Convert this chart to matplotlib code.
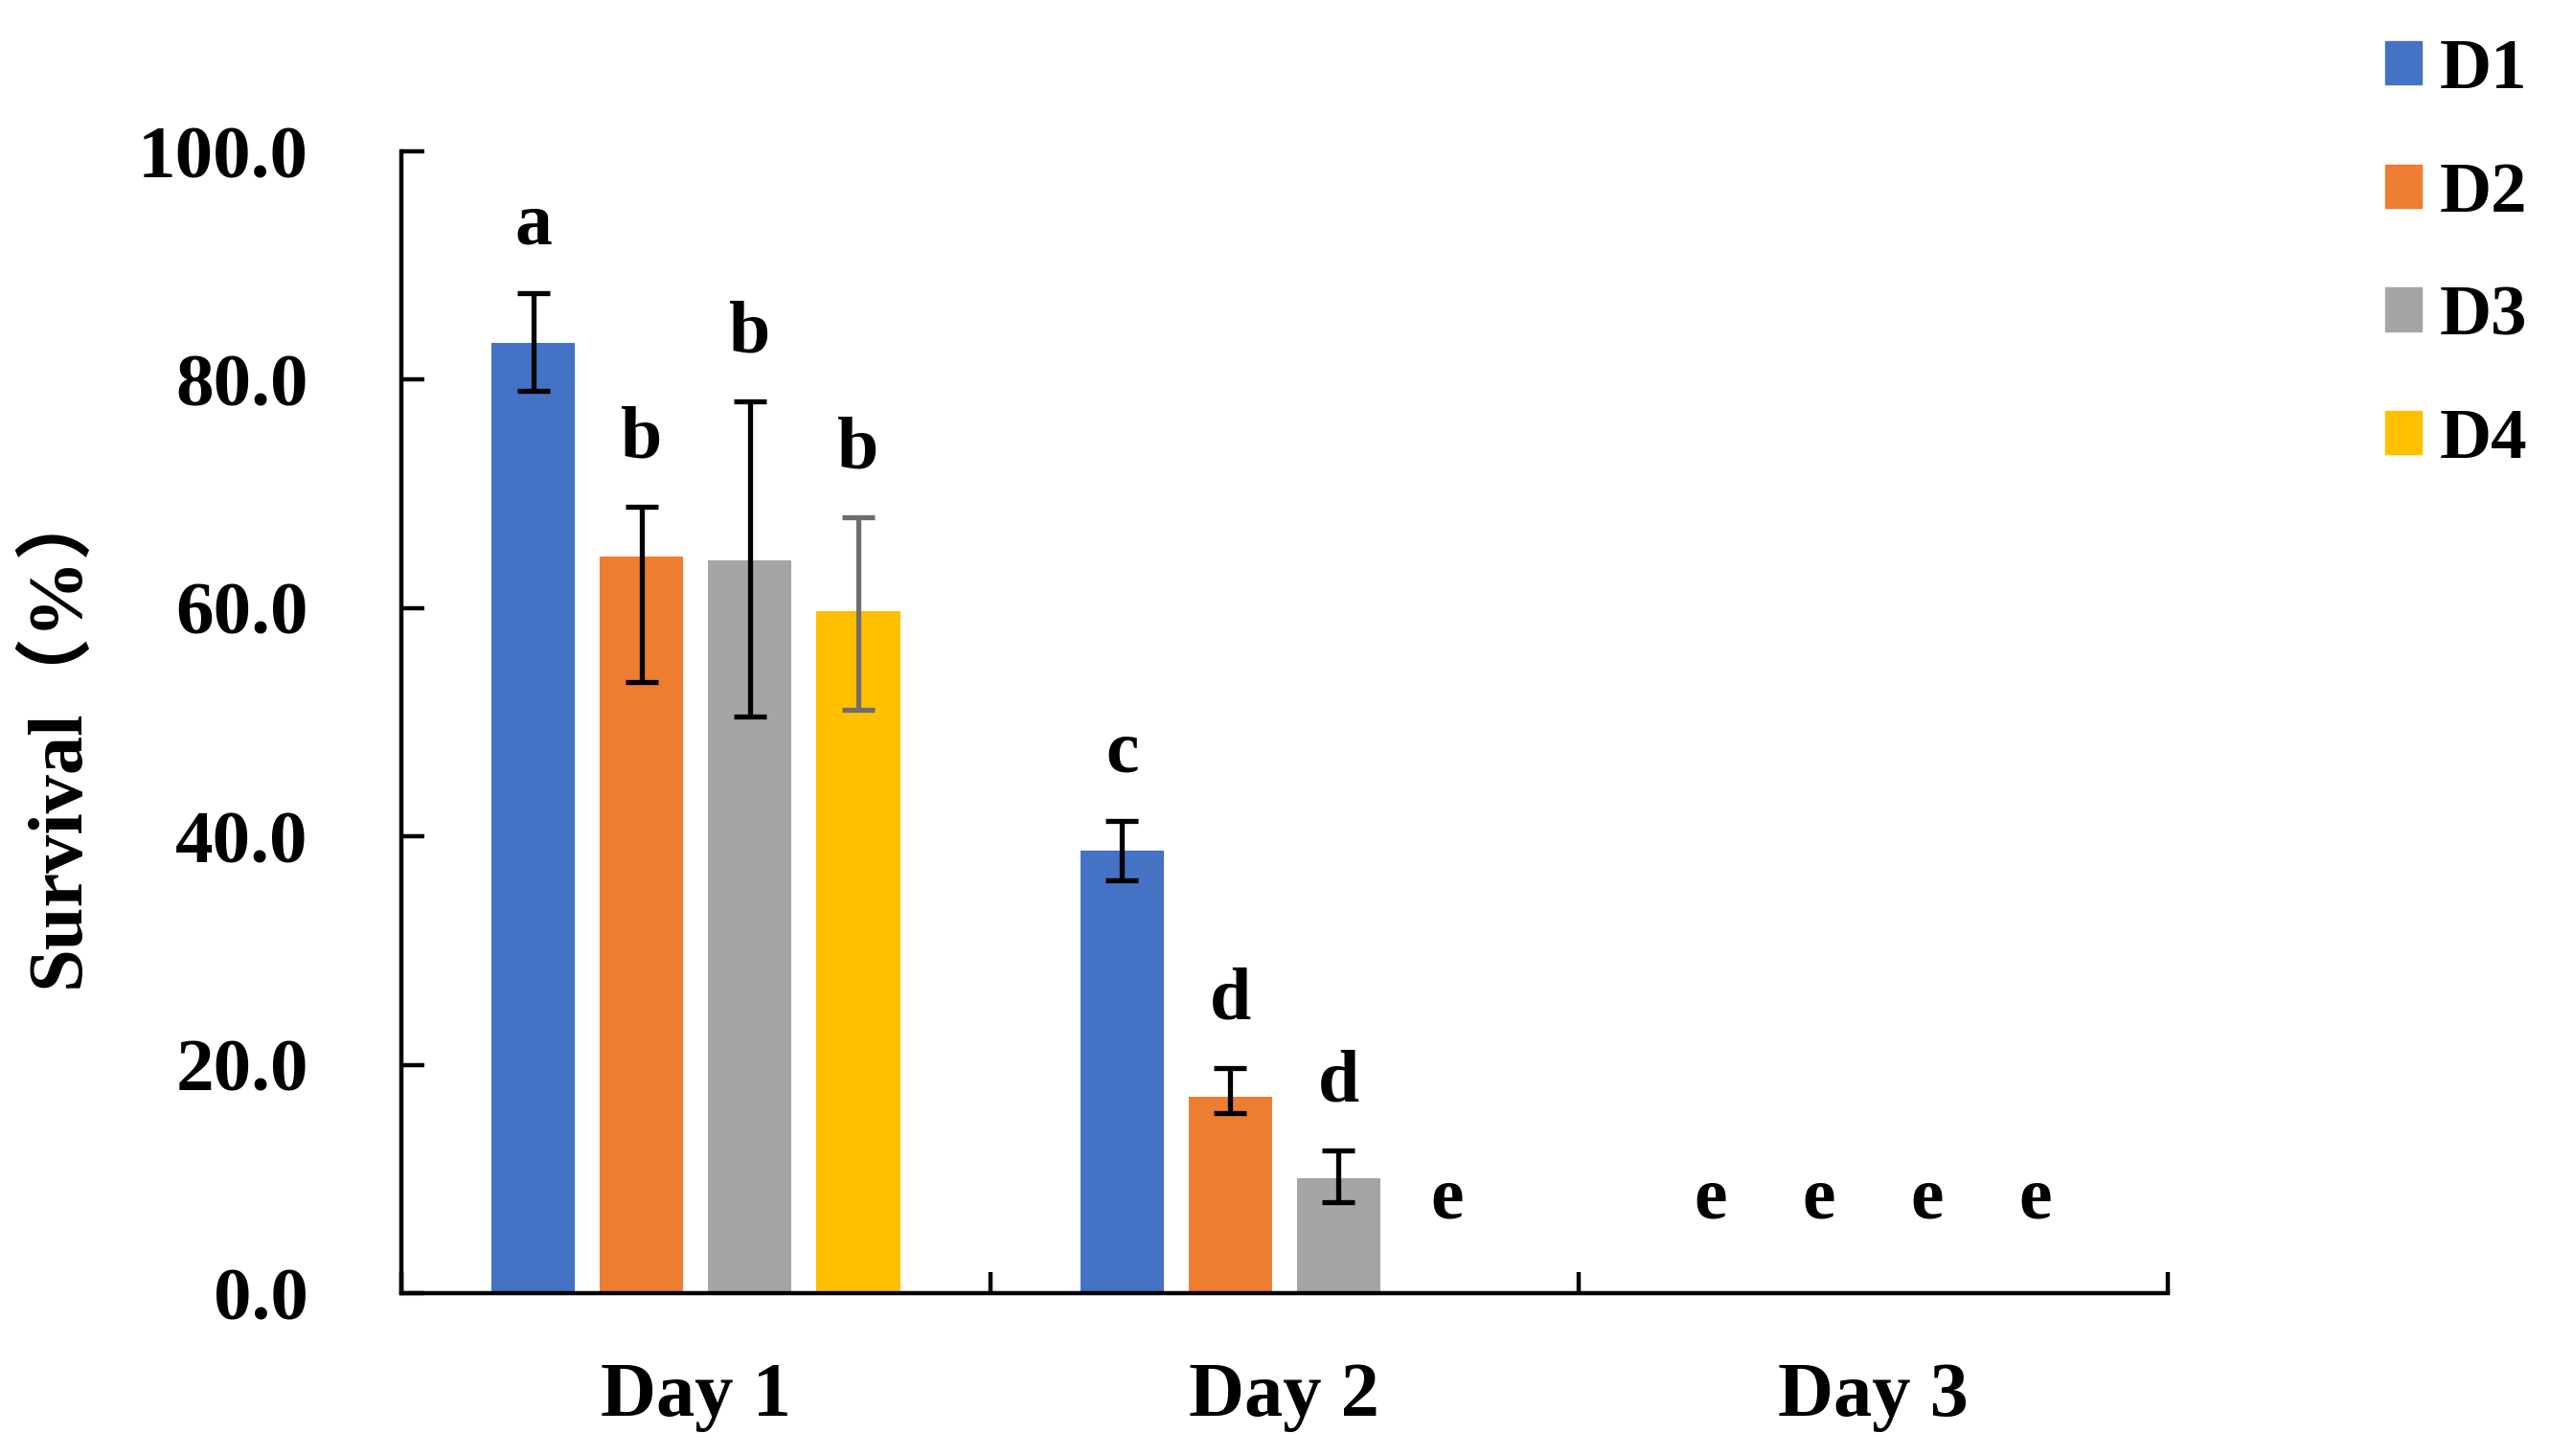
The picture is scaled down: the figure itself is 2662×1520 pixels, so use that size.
import numpy as np
import matplotlib
matplotlib.use("Agg")
import matplotlib.pyplot as plt
from matplotlib.patches import Patch

plt.rcParams['font.family'] = ['Liberation Serif', 'Noto Sans CJK SC', 'DejaVu Sans']
plt.rcParams['font.weight'] = 'bold'

# data
days = ['Day 1', 'Day 2', 'Day 3']
series = ['D1', 'D2', 'D3', 'D4']
d1 = [83.2, 38.8, 0.0]
d2 = [64.5, 17.2, 0.0]
d3 = [64.2, 10.1, 0.0]
d4 = [59.7, 0.0, 0.0]
# error bars (lower, upper)
d1_err = [[4.2, 2.6, 0], [4.4, 2.6, 0]]
d2_err = [[11.0, 1.4, 0], [4.4, 2.5, 0]]
d3_err = [[13.7, 2.1, 0], [13.9, 2.4, 0]]
d4_err = [[8.6, 0, 0], [8.3, 0, 0]]
letters = [['a', 'c', 'e'], ['b', 'd', 'e'], ['b', 'd', 'e'], ['b', 'e', 'e']]

colors = ['#4472C4', '#ED7D31', '#A5A5A5', '#FFC000']
err_colors = ['black', 'black', 'black', '#6E6E6E']

values = [d1, d2, d3, d4]
errors = [d1_err, d2_err, d3_err, d4_err]

fig = plt.figure(figsize=(26.62, 15.20), dpi=100)
ax = fig.add_axes([0.1574, 0.1118, 0.6926, 0.7842])

x = np.arange(len(days))
width = 0.142
step = 0.184

for i, (vals, err) in enumerate(zip(values, errors)):
    pos = x + (i - 1.5) * step
    ax.bar(pos, vals, width, color=colors[i], zorder=2)
    vals_arr = np.array(vals)
    mask = vals_arr > 0
    err_arr = np.array(err)
    ax.errorbar(pos[mask], vals_arr[mask], yerr=err_arr[:, mask], fmt='none',
                ecolor=err_colors[i], elinewidth=3.8, capsize=12, capthick=3.8, zorder=3)
    for j in range(len(days)):
        y = max(vals[j] + err[1][j] + 4.3, 6.6)
        ax.text(pos[j], y, letters[i][j], ha='center', va='baseline',
                fontsize=56, fontweight='bold')

ax.set_xlim(-0.5, 2.5)
ax.set_ylim(0, 100)
ax.set_yticks(np.arange(0, 101, 20))
ax.set_yticklabels([f'{v:.1f}' for v in np.arange(0, 101, 20)])
ax.set_xticks(x)
ax.set_xticklabels(days)
ax.set_xticks(np.arange(-0.5, 3, 1), minor=True)

for s in ['top', 'right']:
    ax.spines[s].set_visible(False)
for s in ['left', 'bottom']:
    ax.spines[s].set_linewidth(3.2)

ax.tick_params(axis='y', direction='in', length=17, width=3.2, pad=70, labelsize=57)
ax.tick_params(axis='x', which='major', length=0, pad=52, labelsize=58)
ax.tick_params(axis='x', which='minor', direction='in', length=16, width=3.2)

fig.text(0.0225, 1 - 765 / 1520, 'Survival（%）', rotation=90, ha='center', va='center',
         fontsize=58, fontweight='bold')

handles = [Patch(color=c) for c in colors]
fig.legend(handles, series, loc='upper left', bbox_to_anchor=(2490 / 2662, 1 - 40 / 1520),
           frameon=False, fontsize=54, handlelength=0.5, handleheight=0.55,
           handletextpad=0.25, labelspacing=0.81, borderpad=0, borderaxespad=0)

fig.savefig('out.png', dpi=100)
